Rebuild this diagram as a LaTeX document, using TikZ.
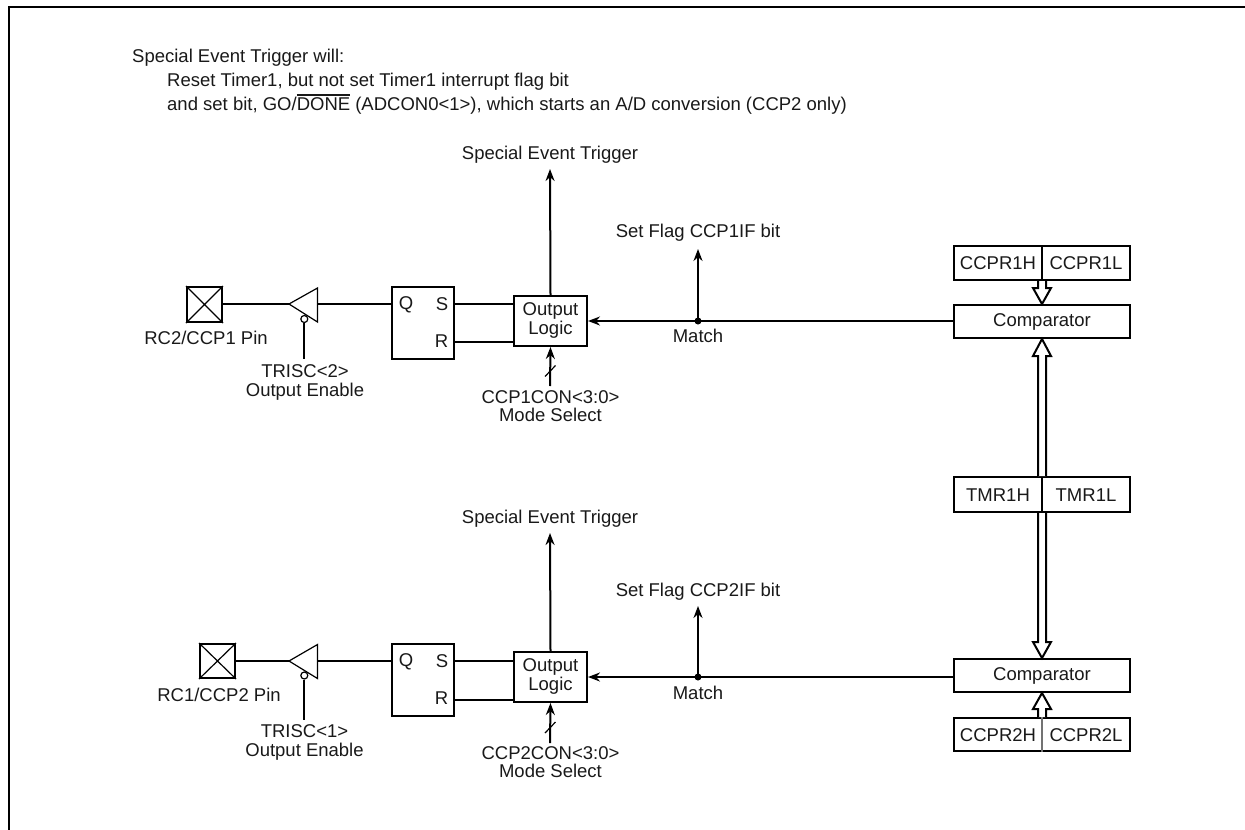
\documentclass[tikz,border=0pt]{standalone}
\usepackage{fontspec}
\setmainfont{Liberation Sans}
\usetikzlibrary{arrows.meta,calc}
\newcommand{\overbar}[1]{\leavevmode\setbox0\hbox{#1}\rlap{\raisebox{13.8pt}{\rule{\wd0}{1.8pt}}}\box0\relax}
\newcommand{\hollowbus}[3]{\draw[busline] ($(#1)+(-4,0)$) -- ($(#2)+(-4,#3)$) -- ($(#2)+(-9,#3)$) -- (#2) -- ($(#2)+(9,#3)$) -- ($(#2)+(4,#3)$) -- ($(#1)+(4,0)$);}
\tikzset{
  wire/.style={line width=2pt,black},
  arrowwire/.style={wire,-{Stealth[length=12pt,width=9pt]}},
  thinline/.style={line width=1.2pt,black},
  busline/.style={line width=2pt,black,fill=white,line join=miter},
  block/.style={draw,line width=2pt,inner sep=0pt,fill=white},
  label/.style={inner sep=0pt,yshift=-2pt,font=\fontsize{18.5}{18.2}\selectfont,align=center,text=black!90},
  bubble/.style={circle,draw,line width=1.2pt,fill=white,inner sep=0pt,minimum size=7pt},
  dot/.style={circle,fill=black,inner sep=0pt,minimum size=7pt},
}
\begin{document}
\begin{tikzpicture}[x=1pt,y=-1pt]
\useasboundingbox (0,0) rectangle (1245,830);
\coordinate (frameA) at (9,830);
\coordinate (frameB) at (9,7);
\coordinate (frameC) at (1245,7);
\draw[line width=2pt,line join=miter] (frameA) -- (frameB) -- (frameC);

\node[label,anchor=base west] (noteA) at (132,60) {Special Event Trigger will:};
\node[label,anchor=base west] (noteB) at (167,84) {Reset Timer1, but not set Timer1 interrupt flag bit};
\node[label,anchor=base west] (noteC) at (167,108) {and set bit, GO/\overbar{DONE} (ADCON0<1>), which starts an A/D conversion (CCP2 only)};

% ---------- upper channel
\node[block,minimum width=35pt,minimum height=35pt] (pinA) at (204.5,304.5) {};
\draw[thinline] (pinA.north west) -- (pinA.south east) (pinA.north east) -- (pinA.south west);
\node[label] (pinAtxt) at (206,335.5) {RC2/CCP1 Pin};
\coordinate (tipA) at (289,304);
\coordinate (bufAt) at (317.5,288);
\coordinate (bufAb) at (317.5,322);
\coordinate (bufAm) at (317.5,304);
\draw[thinline,line join=miter] (tipA) -- (bufAt) -- (bufAb) -- cycle;
\node[bubble] (bubA) at (304.3,319) {};
\node[label] (trisA) at (305,380.5) {TRISC<2>\\Output Enable};
\coordinate (trisAend) at (305,359);
\draw[wire] (bubA.south) -- (bubA.south |- trisAend);
\draw[wire] (pinA.east |- tipA) -- (tipA);
\node[block,minimum width=62pt,minimum height=72pt] (ffA) at (423,323) {};
\node[label] (qA) at (406,302.5) {Q};
\node[label] (sA) at (442,302.5) {S};
\node[label] (rA) at (441.5,339.5) {R};
\coordinate (wireSA) at (454,304);
\coordinate (wireRA) at (454,342);
\draw[wire] (bufAm) -- (ffA.west |- bufAm);
\node[block,minimum width=73pt,minimum height=50pt] (olA) at (550.5,321) {};
\node[label] (olAtxt) at (550.5,318.5) {Output\\Logic};
\draw[wire] (ffA.east |- wireSA) -- (olA.west |- wireSA);
\draw[wire] (ffA.east |- wireRA) -- (olA.west |- wireRA);
\node[label] (setA) at (550,152.5) {Special Event Trigger};
\coordinate (setAend) at (550,169);
\draw[arrowwire] (olA.north) -- (setAend);
\node[block,minimum width=176pt,minimum height=33pt] (cmpA) at (1042,321.5) {};
\node[label] (cmpAtxt) at (1042,320) {Comparator};
\node[dot] (dotA) at (698,321) {};
\draw[arrowwire] (cmpA.west |- dotA) -- (olA.east |- dotA);
\node[label] (flagA) at (698,230.5) {Set Flag CCP1IF bit};
\coordinate (flagAend) at (698,249);
\draw[arrowwire] (dotA.center) -- (flagAend);
\node[label] (matchA) at (698,333.5) {Match};
\coordinate (modeAfrom) at (550,386);
\draw[arrowwire] (modeAfrom) -- (olA.south);
\coordinate (slashAa) at (545,376.5);
\coordinate (slashAb) at (555.5,365.5);
\draw[thinline] (slashAa) -- (slashAb);
\node[label] (modeA) at (550.5,404) {CCP1CON<3:0>\\Mode Select};
\node[block,minimum width=176pt,minimum height=34pt] (ccprA) at (1042,263) {};
\draw[wire] (ccprA.north) -- (ccprA.south);
\node[label] (ccprAh) at (998,261.5) {CCPR1H};
\node[label] (ccprAl) at (1086,261.5) {CCPR1L};
\hollowbus{ccprA.south}{cmpA.north}{-16}

% ---------- timer
\node[block,minimum width=176pt,minimum height=35pt] (tmr) at (1042,494.5) {};
\draw[wire] (tmr.north) -- (tmr.south);
\node[label] (tmrh) at (998,493) {TMR1H};
\node[label] (tmrl) at (1086,493) {TMR1L};
\hollowbus{tmr.north}{cmpA.south}{17}

% ---------- lower channel
\node[block,minimum width=35pt,minimum height=34pt] (pinB) at (217.5,661) {};
\draw[thinline] (pinB.north west) -- (pinB.south east) (pinB.north east) -- (pinB.south west);
\node[label] (pinBtxt) at (219,692.5) {RC1/CCP2 Pin};
\coordinate (tipB) at (289,661);
\coordinate (bufBt) at (317.5,644.5);
\coordinate (bufBb) at (317.5,678.5);
\coordinate (bufBm) at (317.5,661);
\draw[thinline,line join=miter] (tipB) -- (bufBt) -- (bufBb) -- cycle;
\node[bubble] (bubB) at (304.3,675.5) {};
\node[label] (trisB) at (304.5,740.5) {TRISC<1>\\Output Enable};
\coordinate (trisBend) at (304,720);
\draw[wire] (bubB.south) -- (bubB.south |- trisBend);
\draw[wire] (pinB.east |- tipB) -- (tipB);
\node[block,minimum width=62pt,minimum height=72pt] (ffB) at (423,680) {};
\node[label] (qB) at (406,659.5) {Q};
\node[label] (sB) at (442,659.5) {S};
\node[label] (rB) at (441.5,696.5) {R};
\coordinate (wireSB) at (454,661);
\coordinate (wireRB) at (454,700);
\draw[wire] (bufBm) -- (ffB.west |- bufBm);
\node[block,minimum width=73pt,minimum height=50pt] (olB) at (550.5,677) {};
\node[label] (olBtxt) at (550.5,674.5) {Output\\Logic};
\draw[wire] (ffB.east |- wireSB) -- (olB.west |- wireSB);
\draw[wire] (ffB.east |- wireRB) -- (olB.west |- wireRB);
\node[label] (setB) at (550,516.5) {Special Event Trigger};
\coordinate (setBend) at (550,533);
\draw[arrowwire] (olB.north) -- (setBend);
\node[block,minimum width=176pt,minimum height=33pt] (cmpB) at (1042,675.5) {};
\node[label] (cmpBtxt) at (1042,674) {Comparator};
\node[dot] (dotB) at (698,677) {};
\draw[arrowwire] (cmpB.west |- dotB) -- (olB.east |- dotB);
\node[label] (flagB) at (698,589.5) {Set Flag CCP2IF bit};
\coordinate (flagBend) at (698,606);
\draw[arrowwire] (dotB.center) -- (flagBend);
\node[label] (matchB) at (698,690.5) {Match};
\coordinate (modeBfrom) at (550,743);
\draw[arrowwire] (modeBfrom) -- (olB.south);
\coordinate (slashBa) at (545,733);
\coordinate (slashBb) at (555.5,722);
\draw[thinline] (slashBa) -- (slashBb);
\node[label] (modeB) at (550.5,760.5) {CCP2CON<3:0>\\Mode Select};
\node[block,minimum width=176pt,minimum height=33pt] (ccprB) at (1042,734.5) {};
\draw[line width=1.2pt,black!55] (ccprB.north) -- (ccprB.south);
\node[label] (ccprBh) at (998,733) {CCPR2H};
\node[label] (ccprBl) at (1086,733) {CCPR2L};
\hollowbus{tmr.south}{cmpB.north}{-16}
\hollowbus{ccprB.north}{cmpB.south}{16}
\end{tikzpicture}
\end{document}
